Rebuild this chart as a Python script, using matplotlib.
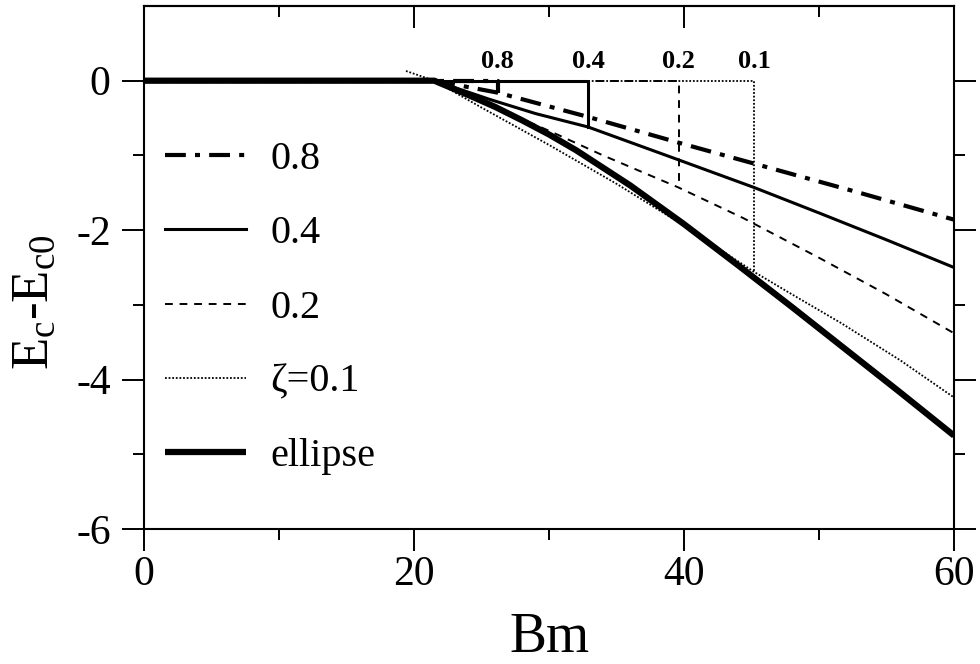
import matplotlib
matplotlib.use('Agg')
import matplotlib.pyplot as plt

plt.rcParams['font.family'] = ['Liberation Serif', 'DejaVu Serif']
plt.rcParams['mathtext.fontset'] = 'custom'
plt.rcParams['mathtext.rm'] = 'Liberation Serif'
plt.rcParams['mathtext.it'] = 'Liberation Serif:italic'
plt.rcParams['axes.unicode_minus'] = False

# ── data ──────────────────────────────────────────────────────────────────
# jump points (x_c, y_c) of the upper branch for each zeta
zeta_names = ['0.8', '0.4', '0.2', '0.1']
jump_x = [26.2, 32.9, 39.6, 45.2]
jump_y = [-0.16, -0.62, -1.43, -2.56]

# lower branches
x_08 = [21.5, 26.2, 33.0, 40.0, 47.0, 53.0, 60.0]
y_08 = [0.0, -0.16, -0.49, -0.85, -1.20, -1.50, -1.86]

x_04 = [21.5, 25.6, 29.0, 32.9, 39.6, 45.2, 50.0, 55.0, 60.0]
y_04 = [0.0, -0.25, -0.44, -0.62, -1.06, -1.43, -1.77, -2.13, -2.50]

x_02 = [21.5, 26.0, 30.0, 34.0, 39.6, 44.4, 50.0, 55.0, 60.0]
y_02 = [0.0, -0.36, -0.67, -1.00, -1.43, -1.84, -2.37, -2.86, -3.38]

x_01 = [19.4, 21.5, 25.0, 30.0, 35.0, 40.0, 45.2, 48.0, 51.6, 56.0, 60.0]
y_01 = [0.13, 0.0, -0.36, -0.86, -1.38, -1.94, -2.56, -2.86, -3.24, -3.74, -4.24]

x_ell = [0.0, 21.5, 24.0, 26.0, 28.0, 30.0, 32.0, 36.0, 40.0, 44.0, 48.0, 52.0, 56.0, 60.0]
y_ell = [0.0, 0.0, -0.19, -0.35, -0.53, -0.72, -0.93, -1.40, -1.92, -2.47, -3.03, -3.60, -4.17, -4.75]

# ──────────────────────────────────────────────────────────────────────────
fig = plt.figure(figsize=(9.8, 6.64), dpi=100)
ax = fig.add_axes([0.147, 0.2033, 0.8265, 0.7877])

styles = [
    dict(color='black', lw=3.0, dashes=(5, 2.2, 1.2, 2.2)),
    dict(color='black', lw=2.2, linestyle='-'),
    dict(color='black', lw=1.4, dashes=(4, 3.5)),
    dict(color='black', lw=1.3, dashes=(1, 1)),
]
lower_x = [x_08, x_04, x_02, x_01]
lower_y = [y_08, y_04, y_02, y_01]
labels = ['0.8', '0.4', '0.2', '\u03b6=0.1']

for i in range(4):
    # upper branch: stays at zero, then drops at the jump point
    ax.plot([0, jump_x[i], jump_x[i]], [0, 0, jump_y[i]], **styles[i])
    ax.plot(lower_x[i], lower_y[i], label=labels[i], **styles[i])
    ax.text(jump_x[i], 0.26, zeta_names[i], ha='center', va='center',
            fontsize=19, fontweight='bold')

ax.plot(x_ell, y_ell, color='black', lw=4.5, label='ellipse',
        solid_capstyle='butt', solid_joinstyle='round')

ax.set_xlim(0, 60)
ax.set_ylim(-6, 1)
ax.set_xticks([0, 20, 40, 60])
ax.set_xticks([10, 30, 50], minor=True)
ax.set_yticks([-6, -4, -2, 0])
ax.set_yticks([-5, -3, -1], minor=True)

for s in ax.spines.values():
    s.set_linewidth(1.5)

ax.tick_params(axis='both', which='major', direction='out', length=16,
               width=1.4, labelsize=30)
ax.tick_params(axis='both', which='minor', direction='out', length=8,
               width=1.4)
ax.tick_params(axis='y', which='both', right=True, pad=8)
ax.tick_params(axis='x', which='both', top=False, pad=3)

top = ax.secondary_xaxis('top')
top.set_xticks([0, 20, 40, 60])
top.set_xticks([10, 30, 50], minor=True)
top.tick_params(which='major', direction='in', length=16, width=1.4,
                labeltop=False)
top.tick_params(which='minor', direction='in', length=8, width=1.4)
top.spines['top'].set_linewidth(1.5)

ax.set_xlabel('Bm', fontsize=40, labelpad=13)
ax.set_ylabel(r'E$_\mathregular{c}$-E$_\mathregular{c0}$', fontsize=38)
ax.yaxis.set_label_coords(-0.105, 0.434)

ax.legend(loc='upper left', bbox_to_anchor=(0.026, 0.742), frameon=False,
          fontsize=29, handlelength=2.0, handletextpad=0.62,
          labelspacing=0.92, borderpad=0, borderaxespad=0)

fig.savefig('out.png', dpi=100)
